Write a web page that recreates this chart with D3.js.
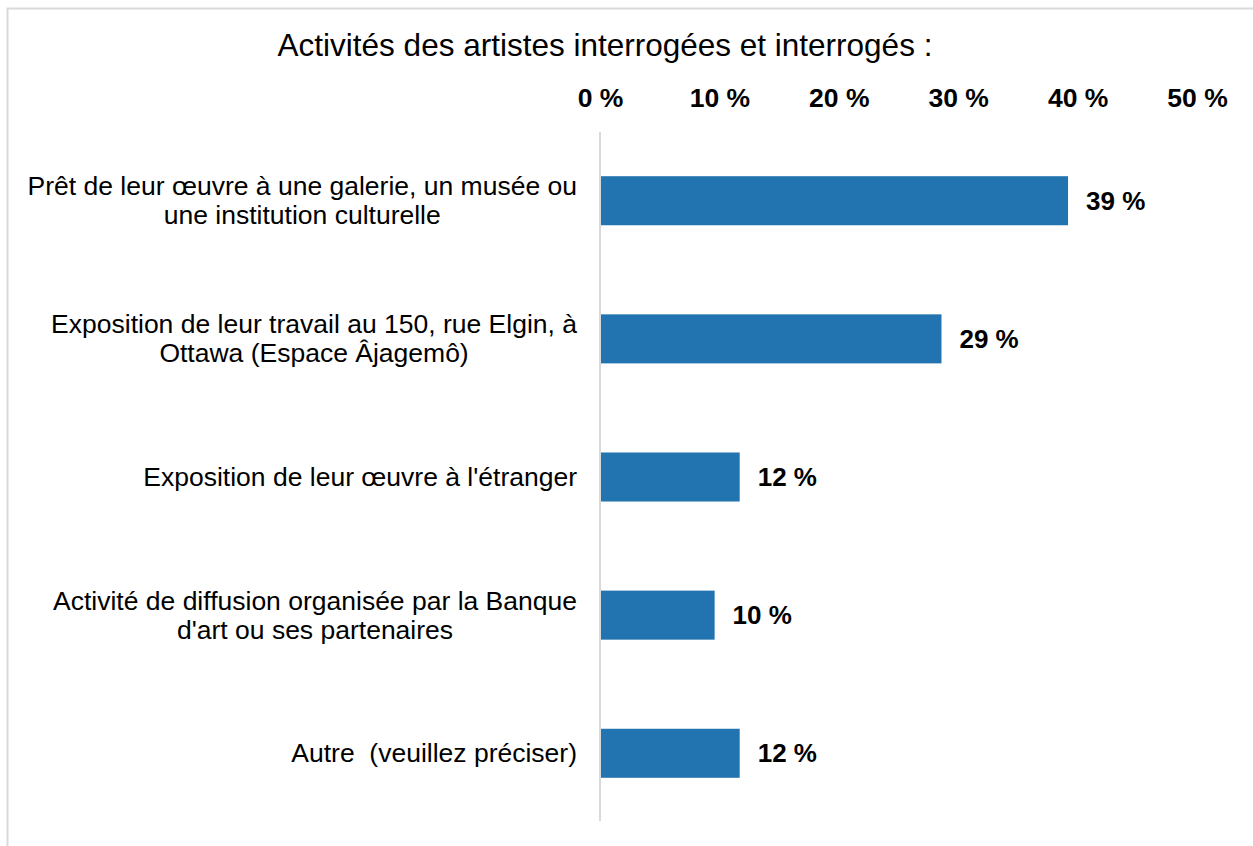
<!DOCTYPE html>
<html>
<head>
<meta charset="utf-8">
<script src="https://cdn.jsdelivr.net/npm/d3@7"></script>
<style>
  html, body { margin: 0; padding: 0; background: #fff; }
  svg { display: block; font-family: "Liberation Sans", Arial, sans-serif; }
  text { white-space: pre; }
</style>
</head>
<body>
<svg id="chart" width="1253" height="846"></svg>
<script>
// donnees du graphique
const title = "Activités des artistes interrogées et interrogés :";
const categories = [
  ["Prêt de leur œuvre à une galerie, un musée ou", "une institution culturelle"],
  ["Exposition de leur travail au 150, rue Elgin, à", "Ottawa (Espace Âjagemô)"],
  ["Exposition de leur œuvre à l'étranger"],
  ["Activité de diffusion organisée par la Banque", "d'art ou ses partenaires"],
  ["Autre  (veuillez préciser)"]
];
const values = [39.2, 28.6, 11.7, 9.6, 11.7];
const ticks = [0, 10, 20, 30, 40, 50];

const svg = d3.select('#chart');
const W = 1253, H = 846;

// cadre
svg.append('rect')
  .attr('x', 7.5).attr('y', 8.5)
  .attr('width', W + 10).attr('height', H + 10)
  .attr('fill', '#fff')
  .attr('stroke', '#d9d9d9')
  .attr('stroke-width', 2);

svg.append('text')
  .attr('x', 605).attr('y', 56)
  .attr('text-anchor', 'middle')
  .attr('font-size', 31.5)
  .attr('fill', '#000')
  .text(title);

const x = d3.scaleLinear().domain([0, 50]).range([600, 1197]);
const y = d3.scaleBand().domain(d3.range(values.length)).range([132, 822]).paddingInner(0.645).paddingOuter(0.32);

// axe du haut
const xAxis = svg.append('g')
  .attr('transform', 'translate(0,110)')
  .call(d3.axisTop(x).tickValues(ticks).tickSize(0).tickFormat(d => d + ' %'));
xAxis.select('.domain').remove();
xAxis.selectAll('text')
  .attr('font-size', 26.5)
  .attr('font-weight', 'bold')
  .attr('font-family', '"Liberation Sans", Arial, sans-serif')
  .attr('fill', '#000')
  .attr('dy', 0);

// ligne verticale
svg.append('line')
  .attr('x1', x(0)).attr('x2', x(0))
  .attr('y1', 132).attr('y2', 821)
  .attr('stroke', '#d9d9d9')
  .attr('stroke-width', 2);

svg.append('g')
  .selectAll('rect')
  .data(values)
  .join('rect')
  .attr('x', x(0) + 1)
  .attr('y', (d, i) => y(i))
  .attr('width', d => x(d) - x(0) - 1)
  .attr('height', y.bandwidth())
  .attr('fill', '#2274b1');

svg.append('g')
  .selectAll('text')
  .data(values)
  .join('text')
  .attr('x', d => x(d) + 18)
  .attr('y', (d, i) => y(i) + y.bandwidth() / 2 + 9)
  .attr('font-size', 26)
  .attr('font-weight', 'bold')
  .text(d => Math.round(d) + ' %');

// etiquettes des categories
const labels = svg.append('g')
  .selectAll('text')
  .data(categories)
  .join('text')
  .attr('text-anchor', 'middle')
  .attr('font-size', 26.5)
  .attr('fill', '#000');

labels.each(function (lines, i) {
  const cy = y(i) + y.bandwidth() / 2;
  const lh = 29;
  const t = d3.select(this);
  lines.forEach((ln, k) => {
    t.append('tspan')
      .attr('x', 300)
      .attr('y', cy + 9 + (k - (lines.length - 1) / 2) * lh)
      .text(ln);
  });
});

// blocs centres, bord droit aligne sur 577
labels.each(function () {
  const spans = d3.select(this).selectAll('tspan').nodes();
  const maxW = d3.max(spans.map(s => s.getComputedTextLength()));
  const cx = 577 - maxW / 2;
  spans.forEach(s => d3.select(s).attr('x', cx));
});
</script>
</body>
</html>
